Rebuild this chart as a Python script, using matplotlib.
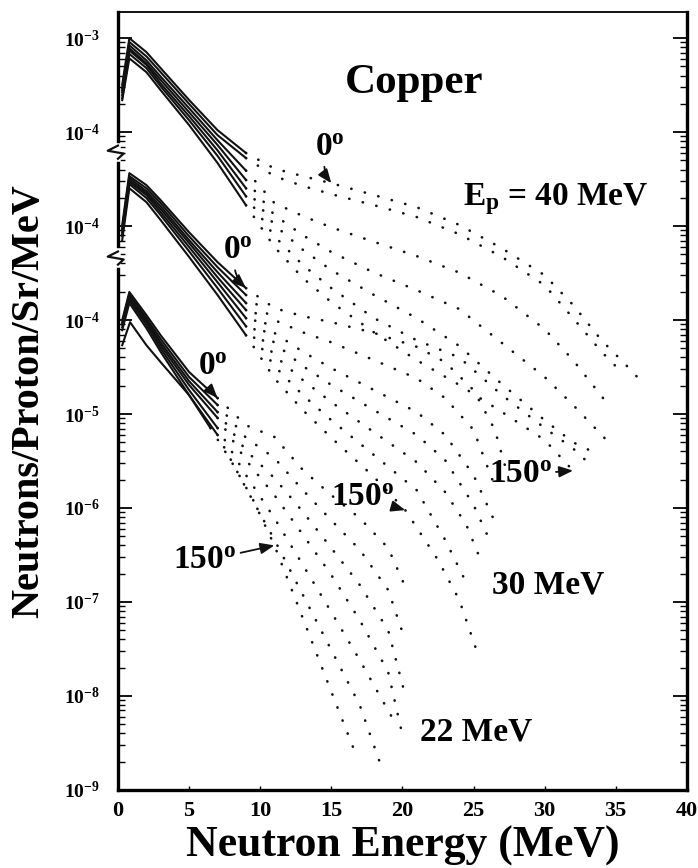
import numpy as np
import matplotlib
matplotlib.use("Agg")
from matplotlib import pyplot as plt
from matplotlib import ticker
from matplotlib.transforms import blended_transform_factory

plt.rcParams['font.family'] = 'serif'
plt.rcParams['font.serif'] = ['Liberation Serif', 'DejaVu Serif']
plt.rcParams['font.weight'] = 'bold'
plt.rcParams['mathtext.fontset'] = 'custom'
plt.rcParams['mathtext.rm'] = 'Liberation Serif:bold'
plt.rcParams['mathtext.it'] = 'Liberation Serif:bold'
plt.rcParams['mathtext.bf'] = 'Liberation Serif:bold'

# angles of the spectra in each group (0 deg on top ... 150 deg at the bottom)
angles = [0, 15, 30, 45, 60, 90, 150]

# Ep = 40 MeV  (neutrons/proton/sr/MeV, drawn shifted by x100)
e40 = [
    [0.3, 0.8, 2, 3, 5, 7, 9, 11, 13, 15, 18, 21, 24, 27, 30, 32, 34, 35.5, 36.6],
    [0.3, 0.8, 2, 3, 5, 7, 9, 11, 13, 15, 18, 21, 24, 27, 30, 32, 34, 35.3],
    [0.3, 0.8, 2, 3, 5, 7, 9, 11, 13, 15, 18, 21, 24, 27, 30, 32, 34.6],
    [0.3, 0.8, 2, 3, 5, 7, 9, 11, 13, 15, 18, 21, 24, 27, 30, 32, 34.5],
    [0.3, 0.8, 2, 3, 5, 7, 9, 11, 13, 15, 18, 21, 24, 27, 30, 32, 33.8],
    [0.3, 0.8, 2, 3, 5, 7, 9, 11, 13, 15, 18, 21, 24, 27, 30, 32, 33],
    [0.3, 0.8, 2, 3, 5, 7, 9, 11, 13, 15, 18, 21, 24, 27, 30, 32],
]
n40 = [
    [3.2e-4, 1.0e-3, 7.1e-4, 4.8e-4, 2.2e-4, 1.05e-4, 6.0e-5, 4.1e-5, 3.4e-5, 2.86e-5,
     2.14e-5, 1.59e-5, 1.03e-5, 5.8e-6, 3.0e-6, 1.45e-6, 6.1e-7, 3.6e-7, 2.4e-7],
    [2.94e-4, 9.1e-4, 6.4e-4, 4.35e-4, 2.0e-4, 9.3e-5, 5.3e-5, 3.4e-5, 2.67e-5, 2.19e-5,
     1.67e-5, 1.25e-5, 8.2e-6, 4.7e-6, 2.35e-6, 1.05e-6, 4.6e-7, 2.9e-7],
    [2.8e-4, 8.4e-4, 5.8e-4, 3.9e-4, 1.8e-4, 8.2e-5, 3.9e-5, 1.76e-5, 1.28e-5, 9.7e-6,
     6.8e-6, 4.8e-6, 3.2e-6, 1.8e-6, 8.0e-7, 3.75e-7, 1.19e-7],
    [2.67e-4, 7.8e-4, 5.4e-4, 3.6e-4, 1.63e-4, 7.3e-5, 3.1e-5, 1.31e-5, 8.0e-6, 5.3e-6,
     3.2e-6, 2.08e-6, 1.31e-6, 5.7e-7, 2.48e-7, 1.25e-7, 5.0e-8],
    [2.48e-4, 7.4e-4, 5.2e-4, 3.3e-4, 1.48e-4, 6.4e-5, 2.53e-5, 1.03e-5, 5.6e-6, 3.4e-6,
     1.85e-6, 1.05e-6, 5.3e-7, 2.08e-7, 8.6e-8, 5.0e-8, 3.7e-8],
    [2.3e-4, 6.8e-4, 4.8e-4, 3.08e-4, 1.34e-4, 5.6e-5, 2.08e-5, 7.8e-6, 3.85e-6, 2.19e-6,
     1.05e-6, 6.1e-7, 4.0e-7, 1.59e-7, 7.1e-8, 4.3e-8, 3.1e-8],
    [2.19e-4, 6.1e-4, 4.35e-4, 2.8e-4, 1.19e-4, 4.7e-5, 1.67e-5, 6.0e-6, 2.8e-6, 1.55e-6,
     7.4e-7, 3.75e-7, 2.04e-7, 1.05e-7, 5.3e-8, 2.5e-8],
]

# Ep = 30 MeV  (drawn shifted by x10)
e30 = [
    [0.3, 0.8, 2, 3, 5, 7, 9, 11, 13, 15, 18, 21, 23, 25, 26.5, 27.3],
    [0.3, 0.8, 2, 3, 5, 7, 9, 11, 13, 15, 18, 21, 23, 25, 26.6],
    [0.3, 0.8, 2, 3, 5, 7, 9, 11, 13, 15, 18, 21, 23, 25, 26.6],
    [0.3, 0.8, 2, 3, 5, 7, 9, 11, 13, 15, 18, 21, 23, 25, 26.3],
    [0.3, 0.8, 2, 3, 5, 7, 9, 11, 13, 15, 18, 21, 23, 24.5, 25.5],
    [0.3, 0.8, 2, 3, 5, 7, 9, 11, 13, 15, 18, 21, 23, 24.5],
    [0.3, 0.8, 2, 3, 5, 7, 9, 11, 13, 15, 18, 20.2, 22.5, 24, 25.2],
]
n30 = [
    [1.03e-4, 3.66e-4, 2.73e-4, 1.89e-4, 8.6e-5, 4.14e-5, 2.19e-5, 1.34e-5, 1.1e-5, 9.5e-6,
     7.3e-6, 5.2e-6, 3.57e-6, 1.8e-6, 6.8e-7, 2.54e-7],
    [9.5e-5, 3.4e-4, 2.53e-4, 1.76e-4, 7.8e-5, 3.66e-5, 1.85e-5, 1.0e-5, 7.4e-6, 5.8e-6,
     3.75e-6, 2.4e-6, 1.48e-6, 6.8e-7, 1.55e-7],
    [9.1e-5, 3.24e-4, 2.36e-4, 1.63e-4, 7.1e-5, 3.24e-5, 1.52e-5, 7.3e-6, 4.6e-6, 3.08e-6,
     1.8e-6, 1.05e-6, 6.0e-7, 2.24e-7, 6.6e-8],
    [8.6e-5, 3.08e-4, 2.24e-4, 1.52e-4, 6.6e-5, 2.86e-5, 1.28e-5, 5.7e-6, 3.24e-6, 2.04e-6,
     1.1e-6, 6.0e-7, 3.24e-7, 1.08e-7, 4.0e-8],
    [8.2e-5, 2.94e-4, 2.14e-4, 1.41e-4, 6.0e-5, 2.53e-5, 1.05e-5, 4.2e-6, 2.3e-6, 1.34e-6,
     6.4e-7, 3.08e-7, 1.48e-7, 6.6e-8, 2.8e-8],
    [7.8e-5, 2.8e-4, 1.99e-4, 1.31e-4, 5.4e-5, 2.19e-5, 8.6e-6, 3.24e-6, 1.59e-6, 8.6e-7,
     3.66e-7, 1.55e-7, 4.6e-8, 1.59e-8],
    [7.1e-5, 2.53e-4, 1.8e-4, 1.16e-4, 4.7e-5, 1.85e-5, 6.9e-6, 2.4e-6, 1.1e-6, 5.6e-7,
     2.14e-7, 9.5e-8, 2.8e-8, 1.05e-8, 3.1e-9],
]

# Ep = 22 MeV  (not shifted)
e22 = [
    [0.3, 0.8, 2, 3, 5, 7, 9, 11, 13, 15, 17, 19, 20.3],
    [0.3, 0.8, 2, 3, 5, 7, 9, 11, 13, 15, 17, 19, 20.2],
    [0.3, 0.8, 2, 3, 5, 7, 9, 11, 13, 15, 17, 19, 20.1],
    [0.3, 0.8, 2, 3, 5, 7, 9, 11, 13, 15, 17, 19, 20.0],
    [0.3, 0.8, 2, 3, 5, 7, 9, 11, 13, 15, 17, 19.3],
    [0.3, 0.8, 2, 3, 5, 7, 9, 11, 13, 15, 17, 18.6],
    [0.3, 0.85, 2, 3, 5, 6.5, 8, 9.5, 11, 12.5, 14, 15.5, 16.8],
]
n22 = [
    [1.0e-4, 1.99e-4, 1.13e-4, 6.9e-5, 2.8e-5, 1.48e-5, 7.6e-6, 5.7e-6, 2.54e-6, 1.37e-6,
     7.8e-7, 3.75e-7, 1.34e-7],
    [9.5e-5, 1.89e-4, 1.05e-4, 6.3e-5, 2.48e-5, 1.25e-5, 5.6e-6, 3.4e-6, 1.55e-6, 7.4e-7,
     3.6e-7, 1.34e-7, 3.9e-8],
    [9.1e-5, 1.8e-4, 1.0e-4, 5.8e-5, 2.24e-5, 1.05e-5, 4.1e-6, 2.08e-6, 9.1e-7, 3.75e-7,
     1.52e-7, 5.0e-8, 1.16e-8],
    [8.9e-5, 1.71e-4, 9.5e-5, 5.4e-5, 2.04e-5, 9.1e-6, 3.24e-6, 1.37e-6, 5.2e-7, 1.94e-7,
     6.4e-8, 1.8e-8, 3.85e-9],
    [8.4e-5, 1.63e-4, 8.9e-5, 5.0e-5, 1.8e-5, 7.1e-6, 2.24e-6, 7.8e-7, 2.48e-7, 7.8e-8,
     2.41e-8, 5.8e-9],
    [7.8e-5, 1.52e-4, 8.2e-5, 4.6e-5, 1.59e-5, 6.0e-6, 1.63e-6, 4.6e-7, 1.19e-7, 3.08e-8,
     8.0e-9, 1.63e-9],
    [5.4e-5, 9.5e-5, 5.4e-5, 3.57e-5, 1.59e-5, 7.1e-6, 3.08e-6, 1.22e-6, 4.0e-7, 1.05e-7,
     2.73e-8, 7.1e-9, 2.24e-9],
]

# display shift of each group and energy where the dense part turns into dots
shift40, shift30, shift22 = 100, 10, 1
knee40, knee30, knee22 = 9, 9, 7

ytick_values = [1e-9, 1e-8, 1e-7, 1e-6, 1e-5, 1e-4, 1e-3, 1e-2, 1e-1]
ytick_labels = [r'$10^{-9}$', r'$10^{-8}$', r'$10^{-7}$', r'$10^{-6}$', r'$10^{-5}$',
                r'$10^{-4}$', r'$10^{-4}$', r'$10^{-4}$', r'$10^{-3}$']
xtick_values = [0, 5, 10, 15, 20, 25, 30, 35, 40]

ink = '#111111'

fig = plt.figure(figsize=(6.98, 8.68), dpi=100)
ax = fig.add_axes([0.169, 0.090, 0.815, 0.896])


def draw_group(energies, values, shift, knee):
    for e, v in zip(energies, values):
        e = np.array(e)
        v = np.array(v) * shift
        k = np.searchsorted(e, knee, side='right')
        ax.plot(e[:k], v[:k], '-', color=ink, lw=1.5, solid_joinstyle='round')
        ax.plot(e[k - 1:], v[k - 1:], color=ink, lw=1.9, ls=(0, (0.1, 5.2)),
                dash_capstyle='round')


draw_group(e40, n40, shift40, knee40)
draw_group(e30, n30, shift30, knee30)
draw_group(e22, n22, shift22, knee22)

ax.set_yscale('log')
ax.set_xlim(0, 40)
ax.set_ylim(1e-9, 10 ** -0.723)

ax.yaxis.set_major_locator(ticker.FixedLocator(ytick_values))
ax.yaxis.set_major_formatter(ticker.FixedFormatter(ytick_labels))
ax.yaxis.set_minor_locator(ticker.LogLocator(base=10, subs=np.arange(2, 10), numticks=50))
ax.yaxis.set_minor_formatter(ticker.NullFormatter())
ax.set_xticks(xtick_values)

ax.tick_params(axis='y', which='major', direction='in', length=10, width=1.3,
               labelsize=14, pad=13, left=True, right=True)
ax.tick_params(axis='y', which='minor', direction='in', length=5, width=1.0,
               left=True, right=True)
ax.tick_params(axis='x', which='major', direction='in', length=3, width=1.0,
               labelsize=16, pad=8, top=False)

for side in ['left', 'bottom', 'right']:
    ax.spines[side].set_linewidth(2.4)
ax.spines['top'].set_linewidth(1.3)

ax.set_ylabel('Neutrons/Proton/Sr/MeV', fontsize=29, fontweight='bold')
ax.yaxis.set_label_coords(-0.125, 0.5)
ax.set_xlabel('Neutron Energy (MeV)', fontsize=31.5, fontweight='bold', labelpad=3)

# axis breaks on the left spine between the shifted groups
trans = blended_transform_factory(ax.transAxes, ax.transData)
for yb in [10 ** -2.213, 10 ** -3.340]:
    ax.plot([0, 0], [yb * 10 ** 0.07, yb * 10 ** -0.07], color='white', lw=4,
            transform=trans, clip_on=False, zorder=5)
    ax.plot([0, -0.018, 0.010, 0], [yb * 10 ** 0.07, yb * 10 ** 0.015, yb * 10 ** -0.015,
                                    yb * 10 ** -0.07],
            color=ink, lw=1.6, transform=trans, clip_on=False, zorder=6)

# labels
ax.text(0.399, 0.896, 'Copper', transform=ax.transAxes, fontsize=31, fontweight='bold',
        ha='left', va='baseline')
ax.text(0.606, 0.752, r'$E_p$ = 40 MeV', transform=ax.transAxes, fontsize=24,
        fontweight='bold', ha='left', va='baseline')
ax.text(0.657, 0.253, '30 MeV', transform=ax.transAxes, fontsize=24, fontweight='bold',
        ha='left', va='baseline')
ax.text(0.531, 0.064, '22 MeV', transform=ax.transAxes, fontsize=24, fontweight='bold',
        ha='left', va='baseline')

arrow_kw = dict(arrowstyle='-|>,head_length=0.35,head_width=0.14', color=ink, lw=1.3,
                shrinkA=1, shrinkB=0)

# 0 degree arrows point at the 0 deg spectra
zero_marks = [
    (e40[0][9], n40[0][9] * shift40, (-1, 26)),
    (e30[0][6], n30[0][6] * shift30, (-6, 27)),
    (e22[0][5], n22[0][5] * shift22, (-3, 23)),
]
for xe, yv, off in zero_marks:
    ax.annotate(r'$0^o$', xy=(xe, yv), xytext=off, textcoords='offset points',
                fontsize=24, ha='center', va='center',
                arrowprops=dict(connectionstyle='arc3,rad=0.35', **arrow_kw))

# 150 degree arrows point at the 150 deg spectra
back_marks = [
    (e40[6][15], n40[6][15] * shift40, (-38, -3)),
    (e30[6][11], n30[6][11] * shift30, (-31, 9)),
    (e22[6][8], n22[6][8] * shift22, (-50, -11)),
]
for xe, yv, off in back_marks:
    ax.annotate(r'$150^o$', xy=(xe, yv), xytext=off, textcoords='offset points',
                fontsize=24, ha='center', va='center',
                arrowprops=dict(connectionstyle='arc3,rad=0.0', **arrow_kw))

fig.savefig('out.png', dpi=100)
